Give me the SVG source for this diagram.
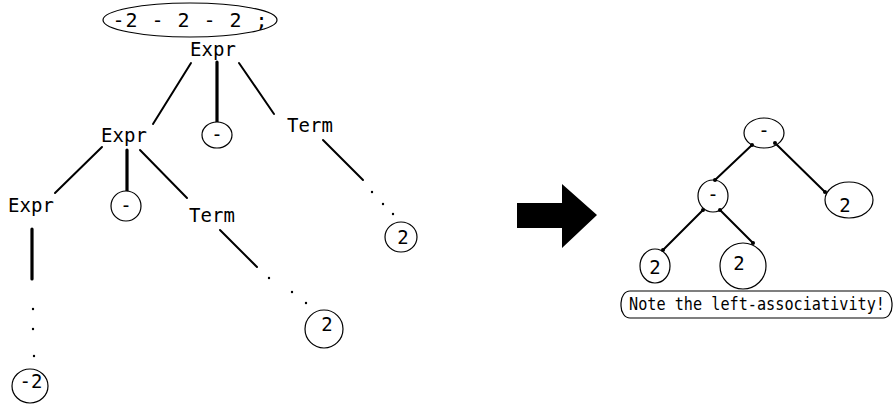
<svg xmlns="http://www.w3.org/2000/svg" width="894" height="405" viewBox="0 0 894 405">
  <style>
    .t { font-family: "DejaVu Sans Mono", "Liberation Mono", monospace; font-size: 19px; fill: #000; }
    .s { font-size: 20px; }
    .n { font-size: 17px; }
    .m { text-anchor: middle; }
    .c { fill: #fff; stroke: #000; stroke-width: 1.2; }
    .e { stroke: #000; stroke-width: 2; fill: none; stroke-linecap: round; }
    .k { stroke-width: 3.2; }
    .d { fill: #000; }
  </style>
  <rect width="894" height="405" fill="#fff"/>

  <!-- parse tree connectors -->
  <g id="parse-edges">
    <line class="e" x1="191" y1="63" x2="153" y2="124"/>
    <line class="e k" x1="217" y1="62" x2="217" y2="122"/>
    <line class="e" x1="239" y1="63" x2="274" y2="114"/>
    <line class="e" x1="102" y1="147" x2="55" y2="193"/>
    <line class="e k" x1="127" y1="150" x2="127" y2="191"/>
    <line class="e" x1="140" y1="150" x2="187" y2="198"/>
    <line class="e k" x1="32" y1="229" x2="32" y2="279"/>
    <circle class="d" cx="33" cy="309" r="1.2"/>
    <circle class="d" cx="33" cy="329" r="1.2"/>
    <circle class="d" cx="34" cy="356" r="1.2"/>
    <line class="e" x1="220" y1="230" x2="257" y2="267"/>
    <circle class="d" cx="269" cy="278" r="1.2"/>
    <circle class="d" cx="292" cy="292" r="1.2"/>
    <circle class="d" cx="306" cy="303" r="1.2"/>
    <line class="e" x1="323" y1="140" x2="363" y2="180"/>
    <circle class="d" cx="372" cy="192" r="1.2"/>
    <circle class="d" cx="383" cy="204" r="1.2"/>
    <circle class="d" cx="393" cy="214" r="1.2"/>
  </g>

  <!-- parse tree nodes -->
  <g id="src">
    <ellipse class="c" cx="190" cy="20" rx="87" ry="17"/>
    <text class="t s m" x="190" y="27" textLength="155">-2 - 2 - 2 ;</text>
  </g>
  <g id="expr0"><text class="t m" x="213" y="56">Expr</text></g>
  <g id="minus0">
    <ellipse class="c" cx="217" cy="135" rx="15" ry="13"/>
    <text class="t m" x="217" y="141">-</text>
  </g>
  <g id="term0"><text class="t m" x="310" y="132">Term</text></g>
  <g id="expr1"><text class="t m" x="124" y="142">Expr</text></g>
  <g id="expr2"><text class="t m" x="31" y="212">Expr</text></g>
  <g id="minus1">
    <ellipse class="c" cx="126" cy="206" rx="15" ry="15"/>
    <text class="t m" x="126" y="212">-</text>
  </g>
  <g id="term1"><text class="t m" x="212" y="222">Term</text></g>
  <g id="num0">
    <ellipse class="c" cx="401" cy="237" rx="16" ry="15"/>
    <text class="t m" x="403" y="244">2</text>
  </g>
  <g id="num1">
    <ellipse class="c" cx="324" cy="329" rx="19" ry="19"/>
    <text class="t m" x="327" y="331">2</text>
  </g>
  <g id="num2">
    <ellipse class="c" cx="30" cy="386" rx="18" ry="17"/>
    <text class="t m" x="31" y="388">-2</text>
  </g>

  <!-- transformation arrow -->
  <g id="arrow">
    <polygon points="517,203 562,203 562,184 597,215 562,248 562,228 517,228" fill="#000"/>
  </g>

  <!-- syntax tree connectors -->
  <g id="ast-edges">
    <line class="e" x1="752" y1="145" x2="715" y2="180"/>
    <line class="e" x1="775" y1="143" x2="825" y2="192"/>
    <line class="e" x1="703" y1="210" x2="663" y2="250"/>
    <line class="e" x1="720" y1="210" x2="753" y2="243"/>
  </g>

  <!-- syntax tree nodes -->
  <g id="op-root">
    <ellipse class="c" cx="764" cy="133" rx="20" ry="15"/>
    <text class="t m" x="764" y="137">-</text>
  </g>
  <g id="op-left">
    <ellipse class="c" cx="713" cy="196" rx="15" ry="16"/>
    <text class="t m" x="713" y="201">-</text>
  </g>
  <g id="leaf-right">
    <ellipse class="c" cx="849" cy="200" rx="24" ry="18"/>
    <text class="t m" x="845" y="212">2</text>
  </g>
  <g id="leaf-ll">
    <ellipse class="c" cx="655" cy="266" rx="15" ry="17"/>
    <text class="t m" x="655" y="274">2</text>
  </g>
  <g id="leaf-lr">
    <ellipse class="c" cx="743" cy="266" rx="23" ry="23"/>
    <text class="t m" x="739" y="270">2</text>
  </g>
  <g id="ast-edge-ends">
    <circle class="d" cx="752" cy="145" r="2"/>
    <circle class="d" cx="715" cy="180" r="2"/>
    <circle class="d" cx="775" cy="143" r="2"/>
    <circle class="d" cx="825" cy="192" r="2"/>
    <circle class="d" cx="703" cy="210" r="2"/>
    <circle class="d" cx="663" cy="250" r="2"/>
    <circle class="d" cx="720" cy="210" r="2"/>
    <circle class="d" cx="753" cy="243" r="2"/>
  </g>

  <!-- note: condensed monospace line inside a pill -->
  <g id="note">
    <rect class="c" x="621" y="291" width="271" height="27" rx="9" ry="12"/>
    <text class="t n" transform="translate(629 310) scale(0.894 1)" x="0" y="0">Note the left-associativity!</text>
  </g>
</svg>
